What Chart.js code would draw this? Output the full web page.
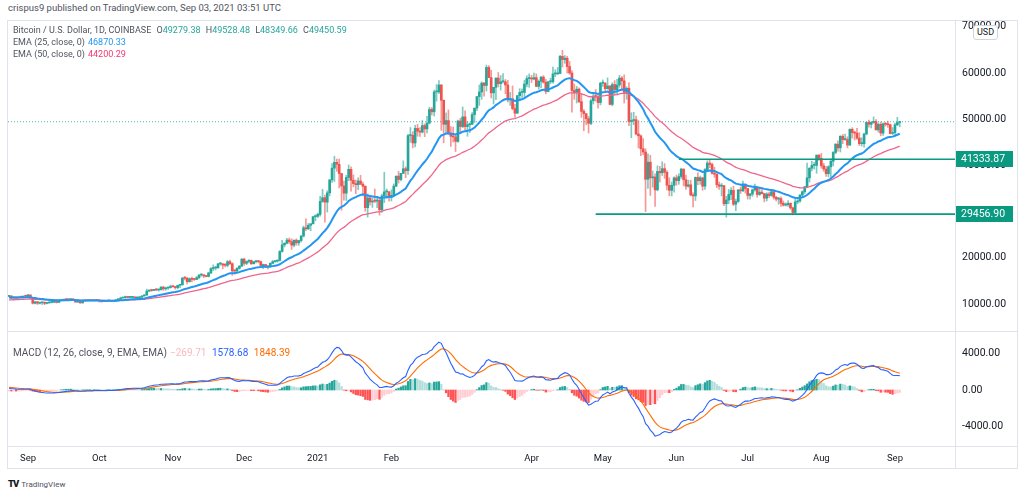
<!DOCTYPE html>
<html lang="en">
<head>
<meta charset="UTF-8">
<title>Bitcoin / U.S. Dollar, 1D</title>
<script src="https://cdn.jsdelivr.net/npm/chart.js"></script>
<style>
  * { margin: 0; padding: 0; box-sizing: border-box; }
  body {
    width: 1024px; height: 497px; background: #fff; position: relative; overflow: hidden;
    font-family: Roboto, 'Noto Sans', sans-serif; color: #131722;
  }
  .header { position: absolute; left: 8px; top: 2px; font-size: 9.5px; color: #50535e; white-space: nowrap; }
  .frame { position: absolute; left: 7px; top: 20px; width: 1011px; height: 449px; border: 1px solid #e0e3eb; }
  .hline { position: absolute; left: 8px; width: 1009px; height: 1px; background: #e0e3eb; }
  .vline { position: absolute; left: 955px; top: 21px; width: 1px; height: 447px; background: #e0e3eb; }
  canvas { position: absolute; }
  #priceChart { left: 8px; top: 21px; }
  #macdChart { left: 8px; top: 332px; }
  .legend { position: absolute; left: 13px; font-size: 9px; color: #50535e; white-space: nowrap; line-height: 12px; }
  .legend span { margin-left: 3px; }
  .legend i { font-style: normal; margin-left: 3px; }
  .up { color: #26a69a; }
  .usd {
    position: absolute; left: 973px; top: 25px; width: 25px; height: 15px; background: #fff;
    border: 1px solid #d1d4dc; border-radius: 3px; font-size: 9px; line-height: 13px; text-align: center; color: #131722;
  }
  .brand { position: absolute; left: 8px; top: 478px; font-size: 8px; color: #50535e; white-space: nowrap; }
  .brand b { font-size: 9.5px; color: #131722; letter-spacing: -1px; margin-right: 3px; font-weight: 900; }
</style>
</head>
<body>
<div class="header">crispus9 published on TradingView.com, Sep 03, 2021 03:51 UTC</div>
<div class="frame"></div>
<canvas id="priceChart" width="1008" height="310"></canvas>
<canvas id="macdChart" width="1008" height="135"></canvas>
<div class="hline" style="top:331px"></div>
<div class="hline" style="top:446px"></div>
<div class="vline"></div>

<div class="legend" style="top:24px">
  Bitcoin / U.S. Dollar, 1D, COINBASE <i>O</i><b class="up" style="font-weight:normal">49279.38</b> <i>H</i><b class="up" style="font-weight:normal">49528.48</b> <i>L</i><b class="up" style="font-weight:normal">48349.66</b> <i>C</i><b class="up" style="font-weight:normal">49450.59</b><br>
  EMA (25, close, 0)<span style="color:#2196f3">46870.33</span><br>
  EMA (50, close, 0)<span style="color:#f23670">44200.29</span>
</div>
<div class="legend" style="top:347px; font-size:10px">
  MACD (12, 26, close, 9, EMA, EMA)<span style="color:#f9b9c2">−269.71</span> <span style="color:#2962ff">1578.68</span> <span style="color:#ff6d00">1848.39</span>
</div>
<div class="usd">USD</div>
<div class="brand"><b>TV</b>TradingView</div>

<script>
// daily candles, Aug 24 2020 -> Sep 03 2021 (day 0 = Sep 1 2020)
const firstDay = -8;
const firstOpen = 11650;

const close = [
  11750, 11330, 11460, 11320, 11530, 11480, 11710, 11680,
  // Sep 2020
  11970, 11420, 10170, 10470, 10170, 10260, 10380, 10130, 10230, 10350, 10390, 10450, 10330, 10680, 10790, 10960, 10940, 10930, 11080, 10920, 10420, 10530, 10240, 10740, 10690, 10730, 10770, 10700, 10840, 10780,
  // Oct
  10620, 10570, 10550, 10670, 10790, 10600, 10670, 10920, 11060, 11300, 11380, 11540, 11430, 11430, 11500, 11320, 11360, 11500, 11750, 11920, 12800, 12970, 12930, 13130, 13030, 13070, 13650, 13280, 13460, 13560, 13800,
  // Nov
  13760, 13550, 14030, 14150, 15590, 15580, 14830, 15480, 15330, 15310, 15700, 16290, 16320, 16070, 15960, 16730, 17660, 17800, 17820, 18680, 18700, 18420, 18370, 19160, 18730, 17150, 17140, 17720, 18180, 19700,
  // Dec
  18800, 19220, 19440, 18700, 19150, 19360, 19170, 18320, 18550, 18260, 18040, 18800, 19170, 19270, 19440, 21380, 22800, 23130, 23850, 23480, 22740, 23820, 23240, 23730, 24710, 26490, 26280, 27040, 27360, 28890, 28990,
  // Jan 2021
  29410, 32200, 33000, 32040, 34050, 36860, 39400, 40670, 40240, 38240, 35540, 34000, 37390, 39150, 36770, 36050, 35820, 36630, 35910, 35470, 30850, 32950, 32080, 32270, 32260, 32500, 30400, 33400, 34270, 34300, 33110,
  // Feb
  33530, 35510, 37680, 36950, 38290, 39270, 38870, 46450, 46500, 44850, 48010, 47400, 47210, 48620, 47900, 49170, 52120, 51600, 55900, 55900, 57400, 54100, 48900, 49700, 47000, 46300, 46170, 45200,
  // Mar
  49600, 48400, 50500, 48400, 48800, 48900, 51000, 52400, 54900, 55900, 57800, 57300, 61200, 59000, 55700, 56900, 58900, 57700, 58100, 58100, 57400, 54200, 54400, 52300, 51300, 55100, 55800, 55800, 57600, 58800, 58800,
  // Apr
  58700, 59000, 57100, 58200, 59100, 58000, 56000, 58100, 58100, 59800, 59800, 59900, 63600, 62900, 63200, 61400, 60000, 56200, 55700, 56500, 53800, 51700, 51200, 50100, 49100, 54000, 55000, 54900, 53600, 57800,
  // May
  57800, 56600, 57200, 53200, 57500, 56400, 57400, 58900, 58300, 55800, 56700, 49500, 49700, 49900, 46800, 46400, 43600, 42900, 37000, 40700, 37300, 37500, 34700, 38700, 38400, 39300, 38500, 35700, 34600, 35700, 37300,
  // Jun
  36700, 37600, 39200, 36900, 35500, 35800, 33600, 33400, 37400, 36700, 37300, 35500, 39100, 40500, 40200, 38300, 38100, 35800, 35500, 35600, 31700, 32500, 33700, 34600, 31600, 32200, 34700, 34500, 35900, 35000,
  // Jul
  33500, 33800, 34700, 35300, 33700, 34200, 33900, 32900, 33800, 33500, 34300, 33100, 32700, 32800, 31800, 31400, 31500, 31800, 30800, 29800, 32100, 32300, 33600, 34300, 35400, 37300, 39400, 40000, 40000, 42200, 41500,
  // Aug
  39900, 39200, 38200, 39700, 40900, 42800, 44600, 43800, 46300, 45600, 45600, 44400, 47800, 47100, 47000, 45900, 44700, 44700, 46800, 49300, 48900, 49300, 49500, 47700, 48900, 47000, 49000, 48900, 48800, 46900, 47100,
  // Sep 2021
  48800, 49279.38, 49450.59
];

const high = [
  11820, 11780, 11540, 11590, 11550, 11580, 11720, 11780,
  12080, 11960, 11440, 10600, 10580, 10350, 10400, 10440, 10350, 10490, 10400, 10480, 10570, 10780, 10940, 11100, 11040, 11040, 11180, 11050, 10990, 10570, 10540, 10770, 10760, 10780, 10800, 10960, 10860, 10850,
  10920, 10660, 10600, 10690, 10800, 10800, 10690, 10960, 11110, 11490, 11440, 11720, 11560, 11550, 11620, 11540, 11400, 11520, 11820, 12030, 13220, 13020, 13030, 13170, 13350, 13240, 13790, 13860, 13640, 13680, 14100,
  13880, 13820, 14060, 14240, 15780, 15960, 15760, 15650, 15840, 15470, 15960, 16340, 16480, 16330, 16150, 16880, 17860, 18480, 18140, 18800, 18960, 18700, 18770, 19420, 19490, 18920, 17450, 17880, 18350, 19870,
  19920, 19310, 19600, 19530, 19170, 19420, 19420, 19300, 18640, 18560, 18280, 18940, 19410, 19350, 19570, 21560, 23780, 23300, 24200, 24300, 24100, 23850, 24100, 23800, 24790, 26870, 28420, 27420, 27390, 28990, 29300,
  29680, 33300, 34800, 33600, 34500, 36950, 40400, 41990, 41380, 41350, 38300, 36620, 37850, 40100, 39700, 37950, 36850, 37300, 37850, 36400, 35600, 33830, 33460, 32940, 34880, 32920, 32560, 33780, 38530, 34900, 34350,
  34720, 35990, 37680, 38700, 38300, 40980, 39700, 46750, 48200, 47300, 48690, 48900, 48200, 49700, 49000, 50600, 52600, 52530, 56300, 57500, 58350, 57500, 54150, 51380, 52000, 48400, 48300, 46700,
  49790, 50200, 52650, 51800, 49500, 49200, 51450, 52400, 54900, 57400, 58100, 58000, 61700, 61600, 60600, 56900, 58970, 60100, 59450, 59900, 58600, 58400, 55800, 57200, 53200, 55100, 56600, 56600, 58400, 59400, 59800,
  59500, 60000, 59800, 58500, 59300, 59450, 58600, 58200, 58900, 61300, 60700, 61200, 63800, 64900, 63800, 63600, 62500, 60500, 57600, 57100, 56800, 55500, 52100, 51200, 50600, 54400, 55500, 56400, 55200, 58000,
  58500, 57950, 58950, 57200, 57900, 58350, 58650, 59500, 59250, 59600, 57000, 57900, 51400, 51500, 50700, 49700, 46600, 45800, 43600, 42500, 42200, 38800, 38200, 39900, 39800, 40800, 40400, 38900, 37300, 36400, 37500,
  37900, 38200, 39400, 39250, 37900, 36800, 36800, 34050, 37500, 38400, 37700, 37450, 39300, 41000, 41300, 40500, 39600, 38200, 36400, 36100, 35700, 33300, 34800, 35200, 35500, 32700, 34750, 35300, 36600, 36100,
  35000, 33950, 34900, 35950, 35300, 35100, 35050, 33900, 34100, 34200, 34600, 34700, 33300, 33100, 33200, 32300, 31900, 32400, 31900, 31000, 32850, 32600, 33650, 34500, 35400, 40500, 39500, 40900, 40650, 42300, 42400,
  42600, 40450, 39800, 39950, 41400, 43000, 44700, 45300, 46450, 46700, 46800, 46200, 47900, 48150, 47400, 48000, 47100, 46000, 47000, 49400, 49800, 49500, 50500, 49900, 49200, 49400, 49200, 49300, 49600, 48900, 48200,
  49150, 50400, 49528.48
];

const low = [
  11600, 11130, 11260, 11150, 11280, 11430, 11470, 11580,
  11520, 11180, 10000, 10020, 9890, 10000, 9880, 9850, 10020, 10200, 10220, 10300, 10210, 10270, 10640, 10680, 10750, 10830, 10890, 10800, 10360, 10360, 10150, 10200, 10570, 10650, 10620, 10670, 10640, 10670,
  10430, 10370, 10500, 10530, 10620, 10530, 10560, 10540, 10820, 11050, 11260, 11200, 11280, 11300, 11270, 11240, 11300, 11350, 11410, 11690, 11900, 12690, 12720, 12880, 12900, 12780, 13050, 12930, 12990, 13130, 13430,
  13620, 13200, 13280, 13540, 14100, 15200, 14350, 14720, 14800, 15080, 15280, 15440, 15980, 15720, 15860, 15870, 16560, 17230, 17360, 17760, 18400, 17620, 18000, 18030, 18510, 16200, 16440, 16880, 17520, 18180,
  18330, 18500, 18910, 18570, 18690, 18880, 18900, 18200, 17650, 17910, 17570, 18020, 18710, 19000, 19050, 19290, 21230, 22350, 22990, 23080, 21830, 22360, 22720, 22680, 23440, 24500, 25850, 26100, 25850, 27320, 28000,
  28700, 29000, 32000, 27700, 29900, 33400, 36300, 36500, 38720, 35110, 30300, 32500, 32400, 36700, 34400, 35360, 33850, 34730, 35850, 33400, 30070, 28800, 31400, 30900, 31930, 30840, 29240, 29840, 31950, 32840, 32260,
  32300, 33430, 35400, 36160, 36620, 38220, 37350, 38070, 45000, 43800, 44000, 46300, 46250, 47000, 46220, 47050, 48970, 50900, 50700, 53900, 55500, 47600, 44900, 47000, 46700, 44100, 45050, 43000,
  45000, 47050, 48150, 47500, 46300, 47100, 48900, 49300, 51850, 53000, 54300, 55000, 56100, 59000, 54600, 53300, 54200, 57000, 56300, 57800, 55500, 53700, 53000, 52000, 50400, 51300, 53950, 54700, 54900, 57000, 56900,
  57950, 58500, 57000, 56500, 56800, 57800, 55500, 55900, 57700, 57800, 59200, 59700, 59900, 61300, 62100, 60000, 59700, 51500, 54300, 53500, 53600, 50400, 47500, 48800, 47000, 48800, 53300, 53900, 52400, 53100,
  57100, 56050, 56500, 53100, 52900, 55300, 55300, 56900, 56250, 53500, 54300, 48600, 46000, 48800, 46600, 43800, 42100, 42300, 30000, 35000, 33500, 35300, 31100, 34500, 36400, 37800, 37200, 34700, 33400, 33400, 34200,
  35700, 35900, 37200, 35600, 34800, 35250, 33400, 31000, 32400, 35800, 35900, 34600, 34800, 38800, 39500, 38100, 37400, 35200, 34800, 33400, 31300, 28800, 31700, 32600, 31300, 30200, 32000, 33900, 34300, 34000,
  32700, 32700, 33300, 34400, 33100, 33500, 33800, 32100, 32300, 33000, 33300, 32700, 32300, 31600, 31100, 31200, 31200, 31100, 30500, 29300, 29500, 31700, 32000, 33400, 33900, 35250, 36400, 38800, 39200, 38300, 41100,
  39400, 38700, 37600, 37500, 37400, 39900, 42500, 43100, 42900, 44700, 45400, 43800, 44300, 45900, 45500, 45600, 44300, 44200, 43950, 46600, 48300, 48100, 49100, 47600, 47200, 46400, 46500, 48500, 48200, 46800, 46700,
  46500, 48600, 48349.66
];

// indicator values at the left edge
const emaSeed25 = 11350, emaSeed50 = 10850;
const emaSeed12 = 11700, emaSeed26 = 11480, signalSeed = 330;

// horizontal levels drawn on the chart and the day each one starts
const levelValues = [41333.87, 29456.90];
const levelStartDays = [274, 239];

// time axis
const monthTicks = [0, 30, 61, 91, 122, 153, 212, 242, 273, 303, 334, 365];
const monthLabels = ['Sep', 'Oct', 'Nov', 'Dec', '2021', 'Feb', 'Apr', 'May', 'Jun', 'Jul', 'Aug', 'Sep'];
const priceTicks = [10000, 20000, 30000, 40000, 50000, 60000, 70000];
const macdTicks = [-4000, 0, 4000];

// ---- derived series ----
const days = close.map((_, i) => firstDay + i);
const open = close.map((c, i) => i === 0 ? firstOpen : close[i - 1]);

function ema(values, n, seed) {
  const k = 2 / (n + 1);
  let prev = seed;
  return values.map(v => (prev = prev + k * (v - prev)));
}

const ema25 = ema(close, 25, emaSeed25);
const ema50 = ema(close, 50, emaSeed50);
const ema12 = ema(close, 12, emaSeed12);
const ema26 = ema(close, 26, emaSeed26);
const macd = ema12.map((v, i) => v - ema26[i]);
const signal = ema(macd, 9, signalSeed);
const hist = macd.map((v, i) => v - signal[i]);

const UP = '#26a69a', DOWN = '#ef5350';
const LEVEL = '#0a9981';
const xMin = -8.42, xMax = 390.27;
const FONT = 'Roboto, "Noto Sans", sans-serif';

const bodyData = days.map((d, i) => ({ x: d, y: [open[i], close[i]] }));
const wickData = days.map((d, i) => ({ x: d, y: [Math.min(low[i], open[i], close[i]), Math.max(high[i], open[i], close[i])] }));
const bodyColors = close.map((c, i) => c >= open[i] ? UP : DOWN);
const wickColors = close.map((c, i) => c >= open[i] ? 'rgba(38,166,154,0.6)' : 'rgba(239,83,80,0.6)');

const line = (vals) => days.map((d, i) => ({ x: d, y: vals[i] }));

const levelSets = levelValues.map((v, i) => ({
  data: [{ x: levelStartDays[i], y: v }, { x: xMax, y: v }],
  borderColor: LEVEL, borderWidth: 1.6, pointRadius: 0, order: 1
}));

const lastClose = close[close.length - 1];

// price-axis labels for the drawn levels
const levelLabels = {
  id: 'levelLabels',
  afterDraw(chart) {
    const { ctx, chartArea, scales } = chart;
    ctx.save();
    ctx.font = '10.5px ' + FONT;
    ctx.textBaseline = 'middle';
    levelValues.forEach(v => {
      const y = Math.round(scales.y.getPixelForValue(v));
      ctx.fillStyle = LEVEL;
      ctx.fillRect(chartArea.right, y - 8, 58, 16);
      ctx.fillStyle = '#fff';
      ctx.fillText(v.toFixed(2), chartArea.right + 6, y + 0.5);
    });
    ctx.restore();
  }
};

// keep the plot area flush with the canvas edges
function noPad(a) {
  a.paddingTop = 0; a.paddingBottom = 0; a.paddingLeft = 0; a.paddingRight = 0;
}

const common = {
  responsive: false,
  animation: false,
  events: [],
  layout: { padding: 0, autoPadding: false },
  plugins: { legend: { display: false }, tooltip: { enabled: false } }
};

new Chart(document.getElementById('priceChart'), {
  type: 'line',
  data: {
    datasets: [
      { data: [{ x: xMin, y: lastClose }, { x: xMax, y: lastClose }], borderColor: 'rgba(38,166,154,0.8)', borderWidth: 1, borderDash: [1, 2], pointRadius: 0, order: 6 },
      { type: 'bar', data: wickData, backgroundColor: wickColors, barThickness: 1, grouped: false, order: 5 },
      { type: 'bar', data: bodyData, backgroundColor: bodyColors, barThickness: 2, grouped: false, minBarLength: 1, order: 4 },
      { data: line(ema50), borderColor: '#f0648c', borderWidth: 1.3, pointRadius: 0, order: 3 },
      { data: line(ema25), borderColor: '#2196f3', borderWidth: 2, pointRadius: 0, order: 2 },
      ...levelSets
    ]
  },
  options: {
    ...common,
    scales: {
      x: { type: 'linear', min: xMin, max: xMax, offset: false, display: false },
      y: {
        position: 'right', min: 4156, max: 71255,
        afterFit(a) { a.width = 61; noPad(a); },
        afterBuildTicks(a) { a.ticks = priceTicks.map(v => ({ value: v })); },
        grid: { display: false, drawTicks: false },
        border: { display: false },
        ticks: { padding: 7, color: '#131722', font: { family: FONT, size: 10.5 }, callback: v => v.toFixed(2) }
      }
    }
  },
  plugins: [levelLabels]
});

new Chart(document.getElementById('macdChart'), {
  type: 'line',
  data: {
    datasets: [
      {
        type: 'bar', data: line(hist), barThickness: 1.6, grouped: false, order: 3,
        backgroundColor: hist.map((h, i) => {
          const prev = i === 0 ? emaSeed12 - emaSeed26 - signalSeed : hist[i - 1];
          if (h >= 0) return h >= prev ? '#26a69a' : '#b2dfdb';
          return h < prev ? '#ff5252' : '#ffcdd2';
        })
      },
      { data: line(signal), borderColor: '#ff6d00', borderWidth: 1.1, pointRadius: 0, order: 2 },
      { data: line(macd), borderColor: '#2962ff', borderWidth: 1.1, pointRadius: 0, order: 1 }
    ]
  },
  options: {
    ...common,
    scales: {
      x: {
        type: 'linear', min: xMin, max: xMax, offset: false,
        afterFit(a) { a.height = 21; noPad(a); },
        afterBuildTicks(a) { a.ticks = monthTicks.map(v => ({ value: v })); },
        grid: { display: false, drawTicks: false },
        border: { display: false },
        ticks: { autoSkip: false, maxRotation: 0, padding: 7, color: '#131722', font: { family: FONT, size: 9.5 }, callback: v => monthLabels[monthTicks.indexOf(v)] }
      },
      y: {
        position: 'right', min: -6137, max: 6356,
        afterFit(a) { a.width = 61; noPad(a); },
        afterBuildTicks(a) { a.ticks = macdTicks.map(v => ({ value: v })); },
        grid: { display: false, drawTicks: false },
        border: { display: false },
        ticks: { padding: 7, color: '#131722', font: { family: FONT, size: 10.5 }, callback: v => v.toFixed(2) }
      }
    }
  }
});
</script>
</body>
</html>
